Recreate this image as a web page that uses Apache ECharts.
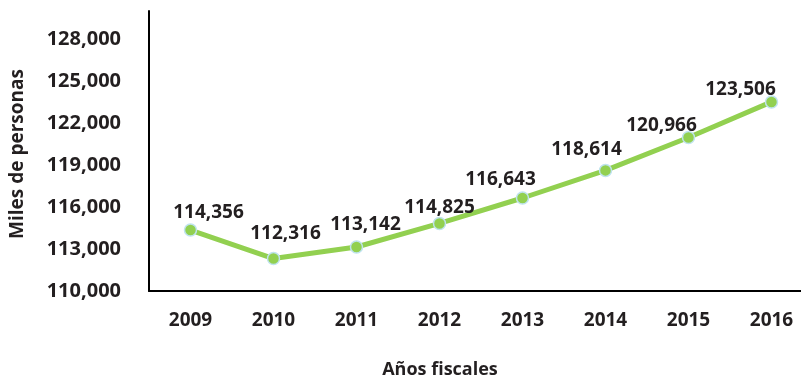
<!DOCTYPE html>
<html>
<head>
<meta charset="utf-8">
<script src="https://cdn.jsdelivr.net/npm/echarts@6/dist/echarts.min.js"></script>
<style>
  html, body { margin: 0; padding: 0; background: #fff; }
  #chart { width: 801px; height: 381px; }
</style>
</head>
<body>
<div id="chart"></div>
<script>
// Fiscal years and thousands of people per year
const years = ['2009', '2010', '2011', '2012', '2013', '2014', '2015', '2016'];
const persons = [114356, 112316, 113142, 114825, 116643, 118614, 120966, 123506];

// Value-label nudges (px) relative to each point's centre
const labelNudge = [[18, -17], [12, -25], [9, -22], [0, -16], [-22, -18], [-19, -21], [-27, -12], [-31, -12]];

const ink = '#231f20';
const font = '"Open Sans", "DejaVu Sans", sans-serif';

const chart = echarts.init(document.getElementById('chart'), null, { renderer: 'canvas' });

chart.setOption({
  animation: false,
  backgroundColor: '#ffffff',
  grid: { left: 149, right: -12, top: 11, bottom: 90, containLabel: false, outerBoundsMode: 'none' },
  xAxis: {
    type: 'category',
    data: years,
    boundaryGap: true,
    axisLine: { lineStyle: { color: '#000', width: 2 } },
    axisTick: { show: false },
    axisLabel: { color: ink, fontFamily: font, fontWeight: 'bold', fontSize: 19, margin: 20 },
    name: 'Años fiscales',
    nameLocation: 'middle',
    nameGap: 70,
    nameTextStyle: { color: ink, fontFamily: font, fontWeight: 'bold', fontSize: 18, padding: [0, 82, 0, 0] }
  },
  yAxis: {
    type: 'value',
    min: 110000,
    max: 130000,
    interval: 3000,
    axisLine: { show: true, lineStyle: { color: '#000', width: 2 } },
    axisTick: { show: false },
    splitLine: { show: false },
    axisLabel: {
      color: ink, fontFamily: font, fontWeight: 'bold', fontSize: 20, margin: 28,
      showMaxLabel: false,
      formatter: v => (v >= 130000 ? '' : v.toLocaleString('en-US'))
    },
    name: 'Miles de personas',
    nameLocation: 'middle',
    nameGap: 122,
    nameRotate: 90,
    nameTextStyle: { color: ink, fontFamily: font, fontWeight: 'bold', fontSize: 19, padding: [0, 6, 0, 0] }
  },
  series: [{
    type: 'line',
    data: persons.map((v, i) => ({
      value: v,
      label: { offset: labelNudge[i] }
    })),
    lineStyle: { color: '#92d050', width: 5 },
    symbol: 'circle',
    symbolSize: 12,
    itemStyle: { color: '#92d050', borderColor: '#bfe3ee', borderWidth: 1.5 },
    label: {
      show: true,
      position: 'inside',
      color: ink,
      fontFamily: font,
      fontWeight: 'bold',
      fontSize: 19,
      formatter: p => p.value.toLocaleString('en-US')
    },
    z: 3
  }]
});
</script>
</body>
</html>
